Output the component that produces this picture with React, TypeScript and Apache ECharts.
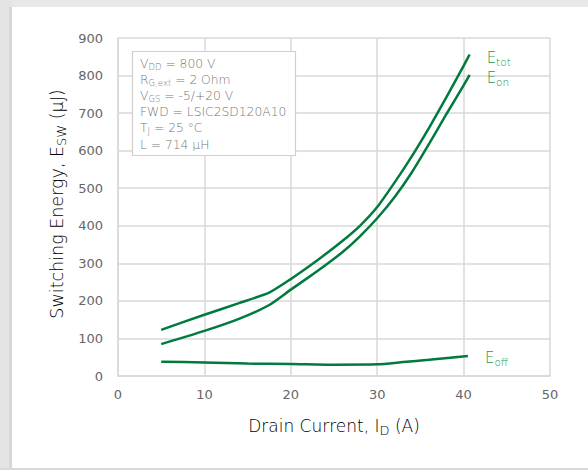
import React, { useEffect, useRef } from "react";
import * as echarts from "echarts";

const xTicks = [0, 10, 20, 30, 40, 50];
const yTicks = [0, 100, 200, 300, 400, 500, 600, 700, 800, 900];

const eTot: [number, number][] = [
  [5, 123], [10, 163], [14, 194], [17.5, 222], [20, 258], [22, 290], [24, 324], [26, 360],
  [28, 400], [30, 450], [32, 515], [34, 585], [36, 661], [38, 742], [40, 826], [40.7, 856],
];
const eOn: [number, number][] = [
  [5, 85], [10, 120], [14, 152], [17.5, 189], [20, 230], [22, 262], [24, 295], [26, 330],
  [28, 372], [30, 420], [32, 476], [34, 542], [36, 618], [38, 697], [40, 774], [40.7, 802],
];
const eOff: [number, number][] = [
  [5, 38], [10, 36], [15, 33], [20, 32], [25, 30], [30, 31], [33, 37], [36, 43], [40.5, 53],
];

const conditions = [
  "{n|V}{s|DD}{n| = 800 V}",
  "{n|R}{s|G,ext}{n| = 2 Ohm}",
  "{n|V}{s|GS}{n| = -5/+20 V}",
  "{n|FWD = LSIC2SD120A10}",
  "{n|T}{s|J}{n| = 25 °C}",
  "{n|L = 714 µH}",
];

const FONT = "'DejaVu Sans', sans-serif";
const LIGHT = 300;
const LINE = "#007a3d";
const LABEL = "#22994f";
const TITLE = "#000000";
const TICK = "#666666";

export default function App() {
  const ref = useRef<HTMLDivElement>(null);
  useEffect(() => {
    const chart = echarts.init(ref.current!, null, { renderer: "svg" });
    const endLabel = (sub: string, dy: number) => ({
      show: true,
      formatter: `{e|E}{s|${sub}}`,
      offset: [9, dy],
      rich: {
        e: { fontSize: 15, color: LABEL, fontFamily: FONT, fontWeight: LIGHT, lineHeight: 18 },
        s: { fontSize: 10.5, color: LABEL, fontFamily: FONT, fontWeight: LIGHT, lineHeight: 11, padding: [8, 0, 0, 0] },
      },
    });
    const mkSeries = (name: string, data: [number, number][], sub: string, dy: number) => ({
      name,
      type: "line",
      data,
      smooth: 0.2,
      showSymbol: false,
      symbol: "none",
      lineStyle: { color: LINE, width: 2.5 },
      endLabel: endLabel(sub, dy),
      z: 3,
    });
    const titleRich = (size: number, sub: number) => ({
      n: { fontSize: size, fill: TITLE, fontFamily: FONT, fontWeight: LIGHT, lineHeight: size + 6 },
      s: { fontSize: sub, fill: TITLE, fontFamily: FONT, fontWeight: LIGHT, lineHeight: sub, padding: [9, 0, 0, 0] },
    });
    chart.setOption({
      animation: false,
      backgroundColor: "#ffffff",
      textStyle: { fontFamily: FONT },
      grid: { left: 118, right: 38, top: 38, bottom: 96 },
      xAxis: {
        type: "value",
        min: xTicks[0],
        max: xTicks[xTicks.length - 1],
        interval: 10,
        axisLine: { show: true, lineStyle: { color: "#d9d9d9", width: 1.5 } },
        axisTick: { show: false },
        axisLabel: { color: TICK, fontSize: 13, margin: 12, fontFamily: FONT, fontWeight: "normal" },
        splitLine: { show: true, lineStyle: { color: "#d9d9d9", width: 1.5 } },
      },
      yAxis: {
        type: "value",
        min: yTicks[0],
        max: yTicks[yTicks.length - 1],
        interval: 100,
        axisLine: { show: true, lineStyle: { color: "#d9d9d9", width: 1.5 } },
        axisTick: { show: false },
        axisLabel: { color: TICK, fontSize: 13, margin: 15, fontFamily: FONT, fontWeight: "normal" },
        splitLine: { show: true, lineStyle: { color: "#d9d9d9", width: 1.5 } },
      },
      graphic: [
        { type: "rect", shape: { x: 0, y: 0, width: 588, height: 7 }, style: { fill: "#e8e8e8" }, silent: true },
        { type: "rect", shape: { x: 0, y: 0, width: 12, height: 470 }, style: { fill: "#e4e4e4" }, silent: true },
        { type: "rect", shape: { x: 9, y: 7, width: 3, height: 463 }, style: { fill: "#d6d6d6" }, silent: true },
        { type: "rect", shape: { x: 0, y: 468, width: 588, height: 2 }, style: { fill: "#d9d9d9" }, silent: true },
        {
          type: "text",
          x: 334,
          y: 426,
          style: {
            text: "{n|Drain Current, I}{s|D}{n| (A)}",
            align: "center",
            verticalAlign: "middle",
            rich: titleRich(17, 13),
          },
        },
        {
          type: "text",
          x: 57,
          y: 204,
          rotation: Math.PI / 2,
          style: {
            text: "{n|Switching Energy, E}{s|SW}{n| (µJ)}",
            align: "center",
            verticalAlign: "middle",
            rich: titleRich(17.5, 13),
          },
        },
        {
          type: "rect",
          shape: { x: 132.5, y: 51.5, width: 163, height: 104 },
          style: { fill: "#ffffff", stroke: "#d0d0d0", lineWidth: 1.2 },
          z: 10,
        },
        {
          type: "text",
          x: 140,
          y: 55.5,
          z: 11,
          style: {
            text: conditions.join("\n"),
            fill: "#777",
            rich: {
              n: { fontSize: 12.3, fill: "#777", fontFamily: FONT, fontWeight: LIGHT, lineHeight: 16.2 },
              s: { fontSize: 8.5, fill: "#777", fontFamily: FONT, fontWeight: LIGHT, lineHeight: 9, padding: [6, 0, 0, 0] },
            },
          },
        },
      ],
      series: [
        mkSeries("Etot", eTot, "tot", 3),
        mkSeries("Eon", eOn, "on", 3),
        mkSeries("Eoff", eOff, "off", 2),
      ],
    });
    return () => chart.dispose();
  }, []);
  return (
    <div
      ref={ref}
      style={{ position: "fixed", left: 0, top: 0, width: 588, height: 472 }}
    />
  );
}
